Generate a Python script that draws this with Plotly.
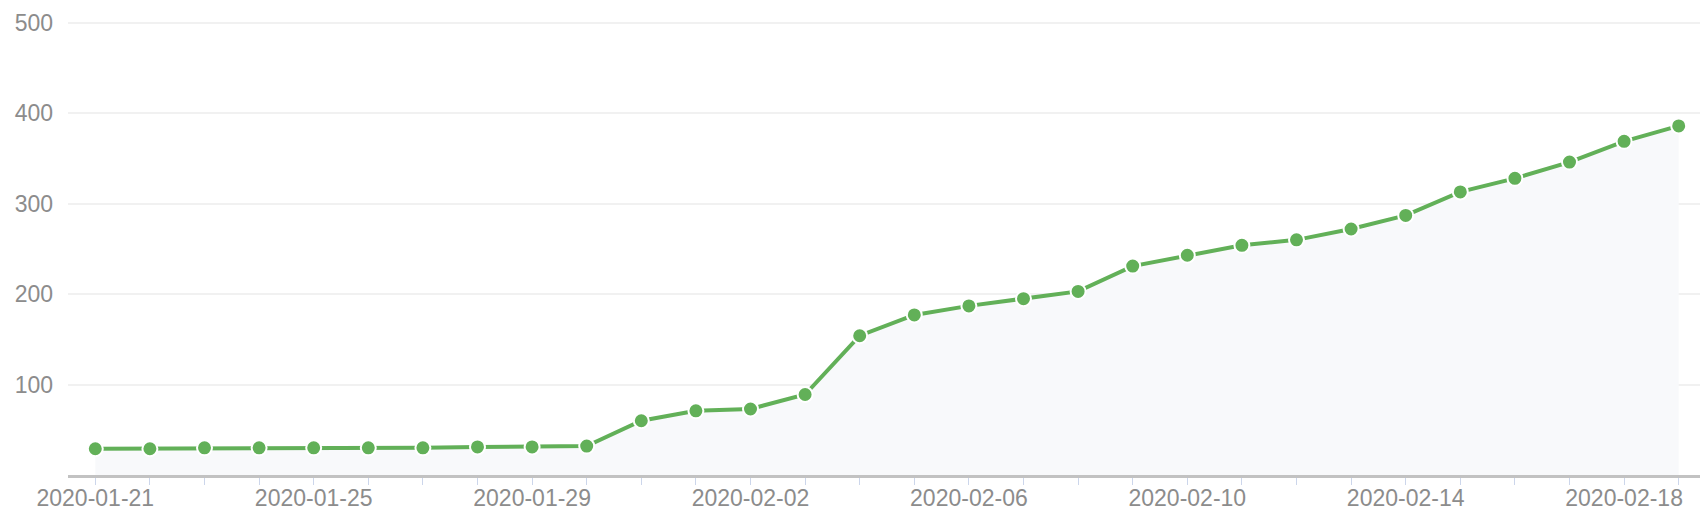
import plotly.graph_objects as go

dates = ["2020-01-21", "2020-01-22", "2020-01-23", "2020-01-24", "2020-01-25",
         "2020-01-26", "2020-01-27", "2020-01-28", "2020-01-29", "2020-01-30",
         "2020-01-31", "2020-02-01", "2020-02-02", "2020-02-03", "2020-02-04",
         "2020-02-05", "2020-02-06", "2020-02-07", "2020-02-08", "2020-02-09",
         "2020-02-10", "2020-02-11", "2020-02-12", "2020-02-13", "2020-02-14",
         "2020-02-15", "2020-02-16", "2020-02-17", "2020-02-18", "2020-02-19"]
values = [29, 29, 30, 30, 30, 30, 30, 31, 31, 32,
          60, 71, 73, 89, 154, 177, 187, 195, 203, 231,
          243, 254, 260, 272, 287, 313, 328, 346, 369, 386]
y_ticks = [100, 200, 300, 400, 500]

GREEN = "#62b058"
LABEL = "#8c8c8c"

fig = go.Figure()
fig.add_trace(go.Scatter(
    x=dates, y=values, mode="lines+markers",
    line=dict(color=GREEN, width=4),
    marker=dict(color=GREEN, size=15, line=dict(color="white", width=2)),
    fill="tozeroy", fillcolor="#f8f9fb",
    hoverinfo="x+y",
))

# page body has an 8px default margin; figure is sized so the plot lands where the reference has it
fig.update_layout(
    width=1700, height=516,
    margin=dict(l=60, r=2, t=9, b=49),
    paper_bgcolor="white", plot_bgcolor="white",
    showlegend=False,
    font=dict(family="Liberation Sans, Arial, sans-serif", size=23, color=LABEL),
    xaxis=dict(
        type="date",
        range=["2020-01-20 12:00", "2020-02-19 12:00"],
        tick0="2020-01-21", dtick=4 * 86400000,
        tickformat="%Y-%m-%d",
        showgrid=False, zeroline=False,
        showline=True, linecolor="#c2c2c2", linewidth=3,
        ticks="outside", ticklen=7, tickwidth=1, tickcolor="#ccd6eb",
        minor=dict(dtick=86400000, tick0="2020-01-21", ticks="outside", ticklen=7,
                   tickwidth=1, tickcolor="#ccd6eb", showgrid=False),
        ticklabelstandoff=-7,
        tickfont=dict(size=23, color=LABEL),
        fixedrange=True,
    ),
    yaxis=dict(
        range=[0, 502],
        tickvals=y_ticks,
        showgrid=True, gridcolor="#f1f1f1", gridwidth=1.5,
        zeroline=False, showline=False,
        ticks="", ticklabelstandoff=14,
        ticklabeloverflow="allow",
        tickfont=dict(size=23, color=LABEL),
        fixedrange=True,
    ),
)

fig.write_html("out.html")
